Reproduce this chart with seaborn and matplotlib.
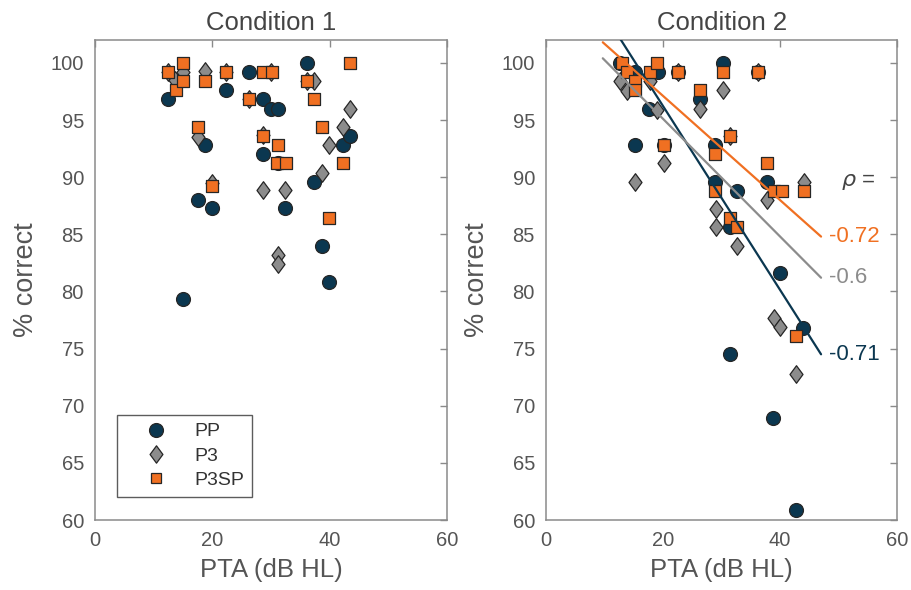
import numpy as np
import pandas as pd
import seaborn as sns
import matplotlib
matplotlib.use("Agg")
import matplotlib.pyplot as plt
from matplotlib.path import Path
from matplotlib.lines import Line2D

# ---------------- data ----------------
series_names = ["PP", "P3", "P3SP"]
conditions = ["Condition 1", "Condition 2"]

c1_pp_x = [12.5, 15.0, 17.5, 18.7, 20.0, 22.4, 26.2, 28.6, 28.7, 30.0, 31.2, 31.2, 32.4, 36.1, 37.3, 38.6, 39.9, 42.3, 43.5]
c1_pp_y = [96.8, 79.3, 88.0, 92.8, 87.3, 97.6, 99.2, 96.8, 92.0, 96.0, 96.0, 91.2, 87.3, 100.0, 89.6, 84.0, 80.8, 92.8, 93.6]

c1_p3_x = [12.5, 13.6, 15.0, 17.5, 18.7, 20.0, 22.4, 26.2, 28.6, 28.7, 30.0, 31.2, 31.2, 32.4, 36.1, 37.3, 38.6, 39.9, 42.3, 43.5]
c1_p3_y = [99.2, 98.5, 99.2, 93.5, 99.3, 89.5, 99.2, 96.8, 88.9, 93.7, 99.2, 83.2, 82.4, 88.9, 98.4, 98.4, 90.4, 92.8, 94.4, 96.0]

c1_sp_x = [12.5, 13.8, 15.0, 15.0, 17.5, 18.7, 20.0, 22.4, 26.2, 28.7, 28.7, 30.1, 31.2, 31.0, 32.6, 36.1, 37.3, 38.6, 39.9, 42.3, 43.5]
c1_sp_y = [99.2, 97.6, 100.0, 98.4, 94.4, 98.4, 89.2, 99.2, 96.8, 99.2, 93.6, 99.2, 92.8, 91.2, 91.2, 98.4, 96.8, 94.4, 86.4, 91.2, 100.0]

c2_pp_x = [12.6, 15.2, 15.2, 17.6, 19.2, 20.2, 22.6, 26.3, 28.9, 28.9, 30.2, 31.4, 31.4, 32.7, 36.3, 37.7, 38.8, 40.0, 42.7, 43.9]
c2_pp_y = [100.0, 99.2, 92.8, 96.0, 99.2, 92.8, 99.2, 96.8, 92.8, 89.6, 100.0, 85.6, 74.5, 88.8, 99.2, 89.6, 68.9, 81.6, 60.9, 76.8]

c2_p3_x = [12.6, 13.8, 15.2, 17.8, 18.9, 20.2, 22.6, 26.3, 29.0, 29.0, 30.2, 31.4, 32.7, 36.3, 37.7, 39.0, 40.0, 42.7, 44.0]
c2_p3_y = [98.4, 97.5, 89.6, 98.4, 95.9, 91.2, 99.2, 96.0, 87.2, 85.6, 97.6, 93.6, 84.0, 99.2, 88.0, 77.7, 76.9, 72.8, 89.6]

c2_sp_x = [12.9, 13.9, 15.2, 15.2, 17.7, 18.9, 20.2, 22.6, 26.3, 28.9, 28.9, 30.2, 31.4, 31.4, 32.7, 36.3, 37.7, 39.0, 40.3, 42.7, 44.0]
c2_sp_y = [100.0, 99.2, 98.4, 97.6, 99.2, 100.0, 92.8, 99.2, 97.6, 92.0, 88.8, 99.2, 93.6, 86.4, 85.6, 99.2, 91.2, 88.8, 88.8, 76.1, 88.8]

# fitted lines (condition 2): endpoints
fit_x = [9.7, 47.0]
fit_pp = [104.5, 74.5]
fit_p3 = [100.4, 81.2]
fit_sp = [101.8, 84.8]
rho_labels = ["-0.71", "-0.6", "-0.72"]

x_ticks = [0, 20, 40, 60]
y_ticks = [60, 65, 70, 75, 80, 85, 90, 95, 100]

# ---------------- style ----------------
sns.set_theme(style="white")
plt.rcParams["font.family"] = ["Liberation Sans", "DejaVu Sans"]
plt.rcParams["mathtext.fontset"] = "dejavusans"

C_PP = "#0b3750"
C_P3 = "#8c8c8c"
C_SP = "#f07022"
EDGE = "#262626"
SPINE = "#8a8a8a"
TXT = "#555555"

diamond = Path([(0, 1), (0.74, 0), (0, -1), (-0.74, 0), (0, 1)],
               [Path.MOVETO, Path.LINETO, Path.LINETO, Path.LINETO, Path.CLOSEPOLY])

styles = {
    "PP": dict(marker="o", s=100, color=C_PP),
    "P3": dict(marker=diamond, s=160, color=C_P3),
    "P3SP": dict(marker="s", s=64, color=C_SP),
}

fig = plt.figure(figsize=(9.12, 5.90), dpi=100)
ax1 = fig.add_axes([0.1042, 0.1186, 0.386, 0.8136])
ax2 = fig.add_axes([0.5987, 0.1186, 0.385, 0.8136])

data = {
    "Condition 1": {"PP": (c1_pp_x, c1_pp_y), "P3": (c1_p3_x, c1_p3_y), "P3SP": (c1_sp_x, c1_sp_y)},
    "Condition 2": {"PP": (c2_pp_x, c2_pp_y), "P3": (c2_p3_x, c2_p3_y), "P3SP": (c2_sp_x, c2_sp_y)},
}

for ax, cond in zip([ax1, ax2], conditions):
    for name in series_names:
        xs, ys = data[cond][name]
        st = styles[name]
        sns.scatterplot(x=xs, y=ys, ax=ax, marker=st["marker"], s=st["s"],
                        color=st["color"], edgecolor=EDGE, linewidth=0.9,
                        zorder=3, legend=False)
    ax.set_xlim(0, 60)
    ax.set_ylim(60, 102)
    ax.set_xticks(x_ticks)
    ax.set_yticks(y_ticks)
    ax.tick_params(direction="in", length=5, width=1, colors=SPINE,
                   labelcolor=TXT, labelsize=14.5, top=True, right=True,
                   pad=8)
    for sp in ax.spines.values():
        sp.set_visible(True)
        sp.set_color(SPINE)
        sp.set_linewidth(1.1)
    ax.set_title(cond, fontsize=18.5, color="#444444", pad=7)
    ax.set_xlabel("PTA (dB HL)", fontsize=18.5, color=TXT, labelpad=6)
    ax.set_ylabel("% correct", fontsize=19.5, color=TXT, labelpad=8)
    ax.grid(False)

# regression lines and rho labels on condition 2
for fy, col, lab in zip([fit_pp, fit_p3, fit_sp], [C_PP, C_P3, C_SP], rho_labels):
    sns.lineplot(x=fit_x, y=fy, ax=ax2, color=col, linewidth=1.6, zorder=4)
    ax2.text(fit_x[1] + 1.3, fy[1], lab, color=col, fontsize=16,
             ha="left", va="center", zorder=5)
ax2.text(50.4, 89.6, r"$\rho$ =", color="#444444", fontsize=16,
         ha="left", va="center")

# legend on condition 1
handles = [
    Line2D([], [], linestyle="none", marker="o", markersize=10, markerfacecolor=C_PP,
           markeredgecolor=EDGE, markeredgewidth=0.9),
    Line2D([], [], linestyle="none", marker=diamond, markersize=12.5, markerfacecolor=C_P3,
           markeredgecolor=EDGE, markeredgewidth=0.9),
    Line2D([], [], linestyle="none", marker="s", markersize=7, markerfacecolor=C_SP,
           markeredgecolor=EDGE, markeredgewidth=0.9),
]
leg = ax1.legend(handles, series_names, loc="lower left",
                 bbox_to_anchor=(0.0625, 0.048), borderaxespad=0,
                 fontsize=14, frameon=True, fancybox=False,
                 handlelength=3.2, handletextpad=0.4, borderpad=0.4,
                 labelspacing=0.35, labelcolor="#333333")
leg.get_frame().set_edgecolor("#333333")
leg.get_frame().set_linewidth(1.0)

fig.savefig("out.png", dpi=100)
